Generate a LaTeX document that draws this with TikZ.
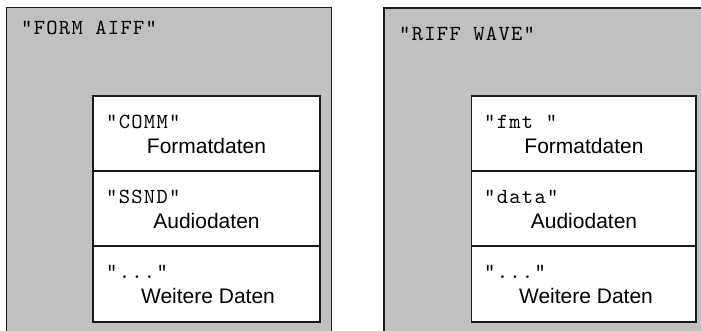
\documentclass[tikz,border=0pt]{standalone}
\usepackage{fontspec}
\setmainfont{Liberation Sans}
\newfontfamily\chunkmono{lmmono10-regular.otf}[LetterSpace=6]
\begin{document}
\begin{tikzpicture}[x=1pt,y=-1pt,
    container/.style={draw=black!90, line width=1.3pt, fill={rgb,255:red,192;green,192;blue,192}},
    chunkcell/.style={draw=black!90, line width=1.3pt, fill=white},
    idlabel/.style={anchor=base west, inner sep=0pt, font=\chunkmono\fontsize{21.5}{25}\selectfont},
    desclabel/.style={anchor=base, inner sep=0pt, font=\fontsize{21}{25}\selectfont}]
  \useasboundingbox (0,0) rectangle (701,330);
  \clip (0,0) rectangle (701,330);
  \fill[white] (0,0) rectangle (701,330);

  % AIFF container
  \draw[container] (6.5,7.5) rectangle (331.5,345);
  \node[idlabel] (aiff) at (21,34) {"FORM AIFF"};
  \draw[chunkcell] (93,96) rectangle (320,171);
  \draw[chunkcell] (93,171) rectangle (320,246);
  \draw[chunkcell] (93,246) rectangle (320,322);
  \node[idlabel] (comm) at (106,128) {"COMM"};
  \node[desclabel] (commd) at (206.5,153) {Formatdaten};
  \node[idlabel] (ssnd) at (106,203) {"SSND"};
  \node[desclabel] (ssndd) at (206.5,228) {Audiodaten};
  \node[idlabel] (aiffmore) at (106,278) {"..."};
  \node[desclabel] (aiffmored) at (208,303) {Weitere Daten};

  % RIFF/WAVE container
  \draw[container] (384,8) rectangle (720,345);
  \node[idlabel] (riff) at (399,40) {"RIFF WAVE"};
  \draw[chunkcell] (471.5,96) rectangle (696,171);
  \draw[chunkcell] (471.5,171) rectangle (696,246);
  \draw[chunkcell] (471.5,246) rectangle (696,322);
  \node[idlabel] (fmt) at (484,128) {"fmt\ "};
  \node[desclabel] (fmtd) at (584,153) {Formatdaten};
  \node[idlabel] (data) at (484,203) {"data"};
  \node[desclabel] (datad) at (584,228) {Audiodaten};
  \node[idlabel] (wavemore) at (484,278) {"..."};
  \node[desclabel] (wavemored) at (586,303) {Weitere Daten};
\end{tikzpicture}
\end{document}
